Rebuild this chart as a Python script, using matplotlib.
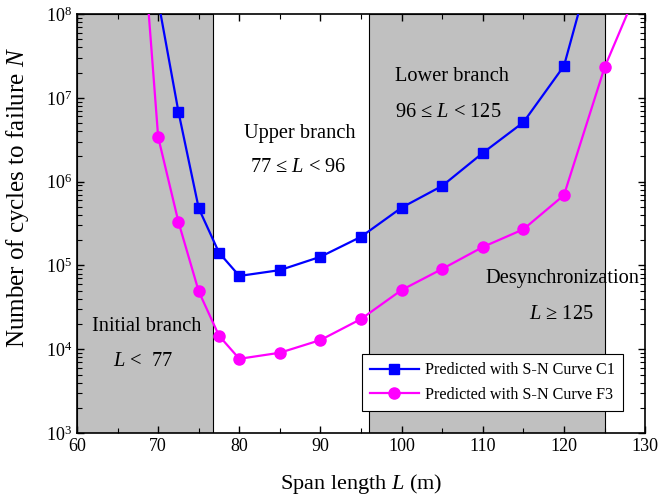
import matplotlib
matplotlib.use("Agg")
import matplotlib.pyplot as plt
from matplotlib.ticker import LogLocator, NullFormatter, MultipleLocator

plt.rcParams['font.family'] = ['Liberation Serif', 'DejaVu Serif']
plt.rcParams['mathtext.fontset'] = 'custom'
plt.rcParams['mathtext.rm'] = 'Liberation Serif'
plt.rcParams['mathtext.it'] = 'Liberation Serif:italic'

# Data
span_c1 = [70, 72.5, 75, 77.5, 80, 85, 90, 95, 100, 105, 110, 115, 120, 125]
cycles_c1 = [1.45e8, 6.8e6, 4.8e5, 1.42e5, 7.5e4, 8.8e4, 1.27e5, 2.2e5, 4.9e5, 8.9e5, 2.2e6, 5.1e6, 2.4e7, 1.4e9]
span_f3 = [67.5, 70, 72.5, 75, 77.5, 80, 85, 90, 95, 100, 105, 110, 115, 120, 125, 130]
cycles_f3 = [5e9, 3.4e6, 3.3e5, 4.9e4, 1.45e4, 7.7e3, 9.1e3, 1.29e4, 2.3e4, 5.1e4, 9.1e4, 1.66e5, 2.7e5, 6.9e5, 2.3e7, 3.2e8]
regions = [(60, 76.8), (96, 125)]

fig = plt.figure(figsize=(6.61, 4.99), dpi=100)
ax = fig.add_axes([0.1165, 0.132, 0.8595, 0.840])

for a, b in regions:
    ax.axvspan(a, b, facecolor='#c0c0c0', edgecolor='black', linewidth=0.8, zorder=0)

ax.plot(span_c1, cycles_c1, color='#0000ff', marker='s', markersize=7, linewidth=1.6,
        label='Predicted with S-N Curve C1', zorder=3)
ax.plot(span_f3, cycles_f3, color='#ff00ff', marker='o', markersize=8, linewidth=1.6,
        label='Predicted with S-N Curve F3', zorder=3)

ax.set_yscale('log')
ax.set_xlim(60, 130)
ax.set_ylim(1e3, 1e8)
ax.xaxis.set_major_locator(MultipleLocator(10))
ax.xaxis.set_minor_locator(MultipleLocator(5))
ax.yaxis.set_major_locator(LogLocator(base=10, numticks=10))
ax.yaxis.set_minor_locator(LogLocator(base=10, subs=range(2, 10), numticks=20))
ax.yaxis.set_minor_formatter(NullFormatter())
ax.tick_params(which='both', direction='in', top=True, right=True, labelsize=13)
ax.tick_params(which='major', length=5, width=1)
ax.tick_params(which='minor', length=3.5, width=0.8)
for s in ax.spines.values():
    s.set_linewidth(1.2)

ax.set_xlabel('Span length $\\mathit{L}$ (m)', fontsize=16, labelpad=12)
ax.set_ylabel('Number of cycles to failure $\\mathit{N}$', fontsize=18)
ax.yaxis.set_label_coords(-0.104, 0.563)
ax.yaxis.label.set_va('center')

fs = 14.7
ax.text(87.5, 10**6.58, 'Upper branch', ha='center', va='center', fontsize=fs)
ax.text(87.2, 10**6.17, '77 ≤ $\\mathit{L}$ < 96', ha='center', va='center', fontsize=fs)
ax.text(99.2, 10**7.26, 'Lower branch', ha='left', va='center', fontsize=fs)
ax.text(99.2, 10**6.82, '96 ≤ $\\mathit{L}$ < 125', ha='left', va='center', fontsize=fs)
ax.text(68.6, 10**4.27, 'Initial branch', ha='center', va='center', fontsize=fs)
ax.text(68.1, 10**3.85, '$\\mathit{L}$ <  77', ha='center', va='center', fontsize=fs)
ax.text(119.8, 10**4.84, 'Desynchronization', ha='center', va='center', fontsize=fs)
ax.text(119.7, 10**4.41, '$\\mathit{L}$ ≥ 125', ha='center', va='center', fontsize=fs)

leg = ax.legend(loc='lower right', bbox_to_anchor=(0.961, 0.0525), fontsize=11.6,
                fancybox=False, edgecolor='black', framealpha=1, handlelength=3.0,
                borderpad=0.5, labelspacing=0.55, handletextpad=0.4, borderaxespad=0)
leg.get_frame().set_linewidth(0.8)

fig.savefig('out.png', dpi=100)
